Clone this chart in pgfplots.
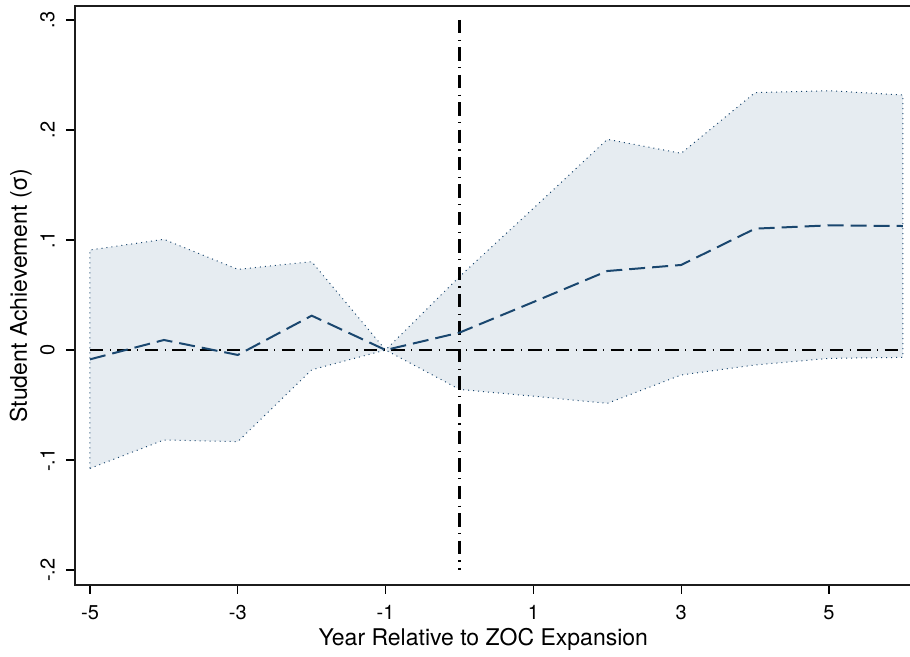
\documentclass[border=0pt]{standalone}
\usepackage{fontspec}
\setmainfont{TeX Gyre Heros}
\usepackage{pgfplots}
\pgfplotsset{compat=1.18}
\definecolor{stnavy}{HTML}{1A476F}
\definecolor{cifill}{HTML}{E6ECF1}
\definecolor{framecol}{HTML}{1C1C1C}
\begin{document}
\begin{tikzpicture}
\begin{axis}[
  name=ax,
  scale only axis,
  width=417.5pt, height=289.5pt,
  xmin=-5.203, xmax=6.096,
  ymin=-0.2136, ymax=0.3127,
  axis lines*=left,
  axis line style={draw=framecol, line width=0.9pt},
  tick align=outside,
  major tick length=4.5pt,
  tick style={line width=0.7pt, black},
  ticklabel style={font=\fontsize{10}{12}\selectfont},
  label style={font=\fontsize{11.5}{14}\selectfont},
  xtick={-5,-3,-1,1,3,5},
  xticklabels={-5,-3,-1,1,3,5},
  ytick={-0.2,-0.1,0,0.1,0.2,0.3},
  yticklabels={-.2,-.1,0,.1,.2,.3},
  yticklabel style={rotate=90, anchor=south, inner ysep=5.5pt},
  xticklabel style={yshift=-2.2pt},
  xlabel={Year Relative to ZOC Expansion},
  ylabel={Student Achievement (σ)},
  xlabel style={at={([yshift=-30.5pt]axis description cs:0.489,0)}, anchor=base},
  ylabel style={at={([xshift=-24pt]axis description cs:0,0.5)}, anchor=base},
  clip=false,
]
% confidence band
\addplot[draw=none, fill=cifill] coordinates {
  (-5,0.0909) (-4,0.1006) (-3,0.0733) (-2,0.0803) (-1,0) (0,0.0667)
  (1,0.1288) (2,0.1915) (3,0.1788) (4,0.2340) (5,0.2357) (6,0.2318)
  (6,-0.0067) (5,-0.0076) (4,-0.0136) (3,-0.0227) (2,-0.0485) (1,-0.0420)
  (0,-0.0358) (-1,0) (-2,-0.0180) (-3,-0.0833) (-4,-0.0818) (-5,-0.1076)
} -- cycle;
% upper bound
\addplot[stnavy, line width=0.5pt, dotted] coordinates {
  (-5,-0.1076) (-5,0.0909) (-4,0.1006) (-3,0.0733) (-2,0.0803) (-1,0) (0,0.0667)
  (1,0.1288) (2,0.1915) (3,0.1788) (4,0.2340) (5,0.2357) (6,0.2318) (6,-0.0067)
};
% lower bound
\addplot[stnavy, line width=0.5pt, dotted] coordinates {
  (-5,-0.1076) (-4,-0.0818) (-3,-0.0833) (-2,-0.0180) (-1,0) (0,-0.0358)
  (1,-0.0420) (2,-0.0485) (3,-0.0227) (4,-0.0136) (5,-0.0076) (6,-0.0067)
};
% reference lines
\addplot[black, line width=1.2pt, dash pattern=on 6.7pt off 3.2pt on 0.6pt off 3.2pt]
  coordinates {(-5,0) (6,0)};
\addplot[black, line width=1.2pt, dash pattern=on 6.7pt off 3.2pt on 0.6pt off 3.2pt]
  coordinates {(0,0.3) (0,-0.2)};
% point estimates
\addplot[stnavy, line width=1pt, dash pattern=on 8pt off 3.5pt] coordinates {
  (-5,-0.0085) (-4,0.0091) (-3,-0.0045) (-2,0.0312) (-1,0) (0,0.0158)
  (1,0.0436) (2,0.0718) (3,0.0773) (4,0.1103) (5,0.1133) (6,0.1127)
};
% plot frame: left, bottom and top edges of the plot region
\addplot[framecol, line width=1pt, dash pattern=on 2000pt off 1pt, line cap=rect]
  coordinates {(6.096,-0.2136) (-5.203,-0.2136) (-5.203,0.3127) (6.096,0.3127)};
\end{axis}
\pgfresetboundingbox
\path ([xshift=-37.5pt,yshift=-36pt]ax.south west) rectangle ([yshift=3pt]ax.north east);
\end{tikzpicture}
\end{document}
